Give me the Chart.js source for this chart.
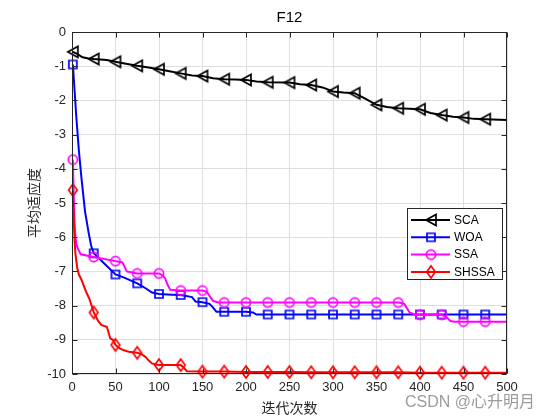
<!DOCTYPE html>
<html><head><meta charset="utf-8">
<script src="https://cdn.jsdelivr.net/npm/chart.js@4/dist/chart.umd.min.js"></script>
<style>html,body{margin:0;padding:0;background:#fff;}#wrap{width:560px;height:420px;}</style>
</head><body><div id="wrap"><canvas id="c" width="560" height="420"></canvas></div>
<script>
const chartTitle = 'F12';
const xLabel = '迭代次数';
const yLabel = '平均适应度';
const watermark = 'CSDN @心升明月';
const seriesNames = ['SCA', 'WOA', 'SSA', 'SHSSA'];
const seriesColors = ['#000000', '#0000ff', '#ff00ff', '#ff0000'];
const xTicks = [0, 50, 100, 150, 200, 250, 300, 350, 400, 450, 500];
const yTicks = [0, -1, -2, -3, -4, -5, -6, -7, -8, -9, -10];
const markerIters = [1, 25, 50, 75, 100, 125, 150, 175, 200, 225, 250, 275, 300, 325, 350, 375, 400, 425, 450, 475];

const scaX = [1, 6, 12, 18, 25, 40, 50, 62, 75, 88, 100, 112, 125, 138, 150, 162, 175, 188, 200, 212, 225, 250, 262, 275, 288, 300, 312, 325, 337, 350, 362, 375, 400, 412, 425, 438, 450, 462, 475, 500];
const scaY = [-0.58, -0.64, -0.74, -0.77, -0.79, -0.82, -0.87, -0.93, -0.99, -1.04, -1.09, -1.15, -1.21, -1.27, -1.29, -1.35, -1.38, -1.39, -1.40, -1.45, -1.47, -1.48, -1.53, -1.55, -1.62, -1.74, -1.77, -1.79, -1.95, -2.13, -2.19, -2.23, -2.26, -2.37, -2.43, -2.48, -2.50, -2.54, -2.55, -2.57];

const woaX = [1, 5, 8, 11, 15, 19, 22, 25, 35, 50, 60, 75, 85, 92, 100, 115, 125, 138, 142, 150, 158, 162, 166, 175, 200, 208, 212, 225, 250, 275, 300, 325, 350, 375, 400, 425, 450, 475, 500];
const woaY = [-0.95, -2.5, -3.5, -4.3, -5.25, -5.85, -6.25, -6.47, -6.72, -7.09, -7.18, -7.35, -7.5, -7.62, -7.66, -7.68, -7.69, -7.75, -7.88, -7.90, -7.95, -8.05, -8.18, -8.18, -8.18, -8.20, -8.26, -8.26, -8.26, -8.26, -8.26, -8.26, -8.26, -8.26, -8.26, -8.26, -8.26, -8.26, -8.26];

const ssaX = [1, 2, 3, 4, 5, 7, 10, 25, 50, 58, 63, 75, 100, 103, 107, 110, 113, 125, 150, 155, 162, 168, 175, 200, 225, 250, 275, 300, 325, 350, 375, 382, 388, 395, 400, 425, 430, 435, 440, 450, 475, 500];
const ssaY = [-3.73, -4.8, -5.6, -6.0, -6.2, -6.35, -6.5, -6.58, -6.7, -6.74, -7.0, -7.06, -7.06, -7.1, -7.2, -7.4, -7.54, -7.56, -7.56, -7.6, -7.86, -7.91, -7.91, -7.91, -7.91, -7.91, -7.91, -7.91, -7.91, -7.91, -7.91, -7.95, -8.2, -8.27, -8.27, -8.27, -8.33, -8.45, -8.47, -8.47, -8.47, -8.47];

const shssaX = [1, 2, 3, 4, 6, 8, 11, 14, 17, 20, 25, 30, 34, 40, 44, 47, 50, 55, 59, 65, 75, 80, 84, 88, 92, 96, 100, 125, 128, 132, 150, 175, 200, 225, 250, 275, 300, 325, 350, 375, 400, 425, 450, 475, 500];
const shssaY = [-4.62, -5.5, -6.1, -6.5, -6.9, -7.1, -7.25, -7.45, -7.64, -7.8, -8.2, -8.45, -8.57, -8.62, -8.96, -9.0, -9.15, -9.25, -9.3, -9.35, -9.38, -9.42, -9.49, -9.6, -9.69, -9.72, -9.74, -9.74, -9.8, -9.92, -9.93, -9.93, -9.94, -9.94, -9.94, -9.95, -9.95, -9.95, -9.95, -9.95, -9.96, -9.96, -9.96, -9.96, -9.96];

const seriesX = [scaX, woaX, ssaX, shssaX];
const seriesY = [scaY, woaY, ssaY, shssaY];
const markerShapes = ['triLeft', 'square', 'circle', 'diamond'];

function makeMarker(shape, color) {
  const c = document.createElement('canvas');
  c.width = 18; c.height = 18;
  const g = c.getContext('2d');
  g.strokeStyle = color; g.lineWidth = 1.7; g.lineJoin = 'miter';
  g.translate(9, 9);
  g.beginPath();
  if (shape === 'triLeft') { g.moveTo(-5, 0); g.lineTo(5, -5.5); g.lineTo(5, 5.5); g.closePath(); }
  else if (shape === 'square') { g.rect(-4, -4, 8, 8); }
  else if (shape === 'circle') { g.arc(0, 0, 4.6, 0, Math.PI * 2); }
  else if (shape === 'diamond') { g.moveTo(0, -6); g.lineTo(4.3, 0); g.lineTo(0, 6); g.lineTo(-4.3, 0); g.closePath(); }
  g.stroke();
  return c;
}
const markerImgs = markerShapes.map((s, i) => makeMarker(s, seriesColors[i]));

const datasets = seriesNames.map((name, i) => ({
  label: name,
  data: seriesX[i].map((x, k) => ({ x: x, y: seriesY[i][k] })),
  borderColor: seriesColors[i],
  backgroundColor: seriesColors[i],
  borderWidth: 2,
  tension: 0,
  fill: false,
  clip: false,
  order: 4 - i,
  pointStyle: markerImgs[i],
  pointRadius: ctx => (ctx.raw && markerIters.includes(ctx.raw.x)) ? 6 : 0,
  pointHoverRadius: 0
}));

const tickFont = { family: "'Liberation Sans', Arial, sans-serif", size: 13 };
const cjkFont = "'Noto Sans CJK SC', sans-serif";
const axisColor = '#262626';

const decoPlugin = {
  id: 'deco',
  afterDraw(chart) {
    const g = chart.ctx, a = chart.chartArea;
    const xs = chart.scales.x, ys = chart.scales.y;
    g.save();
    g.strokeStyle = axisColor; g.lineWidth = 1;
    const L = Math.round(a.left) + 0.5, R = Math.round(a.right) - 0.5;
    const T = Math.round(a.top) + 0.5, B = Math.round(a.bottom) - 0.5;
    g.beginPath();
    xTicks.forEach(v => {
      const p = Math.round(xs.getPixelForValue(v)) + 0.5;
      g.moveTo(p, B); g.lineTo(p, B - 5);
      g.moveTo(p, T); g.lineTo(p, T + 5);
    });
    yTicks.forEach(v => {
      const p = Math.round(ys.getPixelForValue(v)) + 0.5;
      g.moveTo(L, p); g.lineTo(L + 5, p);
      g.moveTo(R, p); g.lineTo(R - 5, p);
    });
    g.stroke();
    g.strokeRect(L, T, R - L, B - T);

    // legend
    const lx = 407.5, ly = 208.5, lw = 95, lh = 71;
    g.fillStyle = '#ffffff';
    g.fillRect(lx, ly, lw, lh);
    g.strokeStyle = '#262626';
    g.strokeRect(lx, ly, lw, lh);
    g.font = "12px 'Liberation Sans', Arial, sans-serif";
    g.textBaseline = 'middle';
    g.textAlign = 'left';
    seriesNames.forEach((name, i) => {
      const y = 220 + i * 17.3;
      g.strokeStyle = seriesColors[i]; g.lineWidth = 2;
      g.beginPath(); g.moveTo(411, y); g.lineTo(450, y); g.stroke();
      const img = markerImgs[i];
      g.drawImage(img, 431 - img.width / 2, y - img.height / 2);
      g.fillStyle = '#000000';
      g.fillText(name, 454, y + 0.5);
    });

    // watermark
    g.font = "16px 'Liberation Sans', " + cjkFont;
    g.fillStyle = 'rgba(130,130,130,0.8)';
    g.textBaseline = 'alphabetic';
    g.fillText(watermark, 405, 407);
    g.restore();
  }
};

new Chart(document.getElementById('c'), {
  type: 'line',
  data: { datasets: datasets },
  options: {
    responsive: false,
    animation: false,
    devicePixelRatio: 1,
    layout: { padding: { left: 0, right: 53, top: 0, bottom: 0 } },
    plugins: {
      legend: { display: false },
      tooltip: { enabled: false },
      title: {
        display: true, text: chartTitle, fullSize: false, color: '#000000',
        font: { family: "'Liberation Sans', Arial, sans-serif", size: 15, weight: 'normal', lineHeight: 1.2 },
        padding: { top: 9, bottom: 5 }
      }
    },
    scales: {
      x: {
        type: 'linear', min: 0, max: 500,
        afterFit: s => { s.height = 46; },
        afterBuildTicks: s => { s.ticks = xTicks.map(v => ({ value: v })); },
        grid: { color: '#dfdfdf', drawTicks: false, lineWidth: 1 },
        border: { display: false },
        ticks: { padding: 6, color: axisColor, font: tickFont, maxRotation: 0, autoSkip: false },
        title: { display: true, text: xLabel, color: axisColor, font: { family: cjkFont, size: 14 }, padding: { top: 0, bottom: 4 } }
      },
      y: {
        type: 'linear', min: -10, max: 0,
        afterFit: s => { s.width = 72; },
        afterBuildTicks: s => { s.ticks = yTicks.map(v => ({ value: v })); },
        grid: { color: '#dfdfdf', drawTicks: false, lineWidth: 1 },
        border: { display: false },
        ticks: { padding: 6, color: axisColor, font: tickFont, autoSkip: false },
        title: { display: true, text: yLabel, color: axisColor, font: { family: cjkFont, size: 14 }, padding: { top: 25, bottom: 0 } }
      }
    }
  },
  plugins: [decoPlugin]
});
</script>
</body></html>
